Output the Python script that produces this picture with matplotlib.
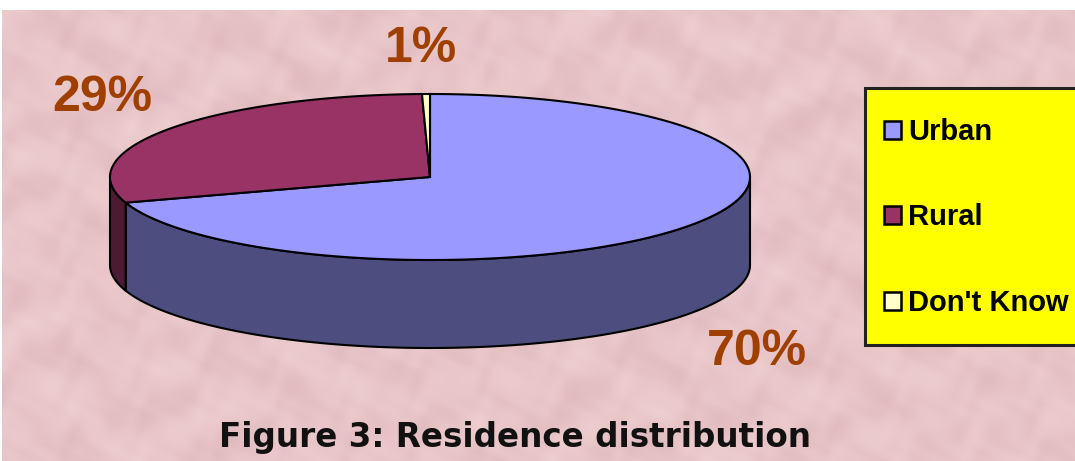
import numpy as np
import matplotlib
matplotlib.use("Agg")
import matplotlib.pyplot as plt
from matplotlib.colors import LinearSegmentedColormap
from matplotlib.patches import Patch, Rectangle

categories = ["Urban", "Rural", "Don't Know"]
values = [70.0, 29.6, 0.4]
labels = ["70%", "29%", "1%"]
top_colors = ["#9999ff", "#993366", "#ffffcc"]
side_colors = ["#4d4d80", "#4d1a33", "#80806a"]

# pie geometry in pixels
cx, cy = 430, 177
rx, ry = 320, 83
depth = 88


def ell(a):
    return cx + rx * np.cos(a), cy - ry * np.sin(a)


fig = plt.figure(figsize=(10.75, 4.61), dpi=100, facecolor="white")
ax = fig.add_axes([0, 0, 1, 1])
ax.set_xlim(0, 1075)
ax.set_ylim(461, 0)
ax.axis("off")

# mottled paper background, just interfering waves
yy, xx = np.mgrid[11:461, 2:1075]
tex = (np.sin(xx / 23 + np.sin(yy / 17) * 2.1) + np.sin(yy / 13 + np.sin(xx / 31) * 2.7)
       + np.sin((xx + yy) / 9.3 + np.sin(xx / 11) * 1.7) * 0.7 + np.sin((xx - yy) / 6.1 + np.cos(yy / 7) * 1.3) * 0.5)
paper = LinearSegmentedColormap.from_list("paper", ["#e0babf", "#e8c5c8", "#eeced0"])
ax.imshow(tex, cmap=paper, extent=(2, 1075, 461, 11), aspect="auto", interpolation="bilinear", zorder=0)
ax.set_xlim(0, 1075)
ax.set_ylim(461, 0)

# slices run clockwise from the top
fracs = np.array(values) / sum(values)
ends = np.pi / 2 - 2 * np.pi * np.cumsum(fracs)
starts = np.r_[np.pi / 2, ends[:-1]]

# side wall, only the front half is visible
for s, e, c in zip(starts, ends, side_colors):
    a0 = min(s, -0.0)
    a1 = max(e, -np.pi)
    if a0 <= a1:
        continue
    t = np.linspace(a0, a1, 200)
    x, y = ell(t)
    ax.fill(np.r_[x, x[::-1]], np.r_[y, y[::-1] + depth], fc=c, ec="black", lw=1.5, zorder=2)

for s, e, c in zip(starts, ends, top_colors):
    t = np.linspace(s, e, 300)
    x, y = ell(t)
    ax.fill(np.r_[cx, x], np.r_[cy, y], fc=c, ec="black", lw=1.5, zorder=3)

pct_font = dict(family="Liberation Sans", weight="bold", size=36, color="#a04000", ha="center", va="center")
ax.text(757, 352, labels[0], **pct_font)
ax.text(102, 98, labels[1], **pct_font)
ax.text(421, 49, labels[2], **pct_font)

ax.text(515, 437, "Figure 3: Residence distribution", family="DejaVu Sans", weight="bold",
        size=23.5, color="#111111", ha="center", va="center")

# legend box runs off the right edge
ax.add_patch(Rectangle((865, 88), 230, 257, fc="#ffff00", ec="#222222", lw=2.2, zorder=4))
handles = [Patch(fc=c, ec="black", lw=1.8) for c in top_colors]
leg = ax.legend(handles, categories, loc="upper left", bbox_to_anchor=(884 / 1075, 1 - 118 / 461),
                prop=dict(family="Liberation Sans", weight="bold", size=21),
                frameon=False, handlelength=0.58, handleheight=0.58, handletextpad=0.25,
                labelspacing=1.97, borderpad=0, borderaxespad=0)
leg.set_zorder(5)

fig.savefig("out.png", dpi=100)
